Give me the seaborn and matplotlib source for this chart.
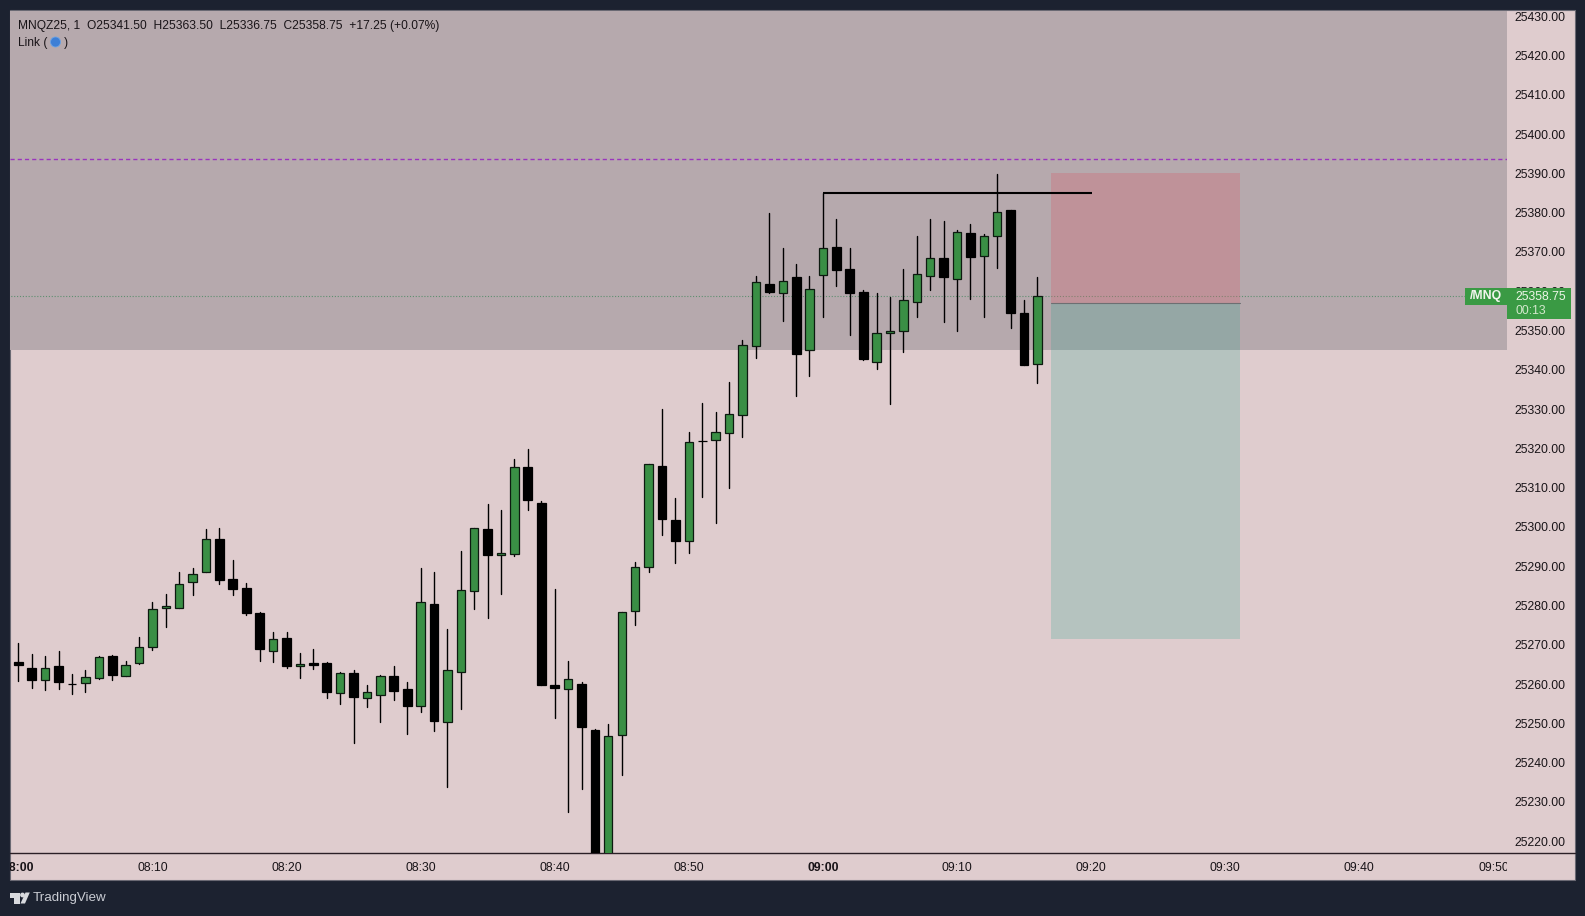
import numpy as np
import pandas as pd
import seaborn as sns
import matplotlib
matplotlib.use("Agg")
import matplotlib.pyplot as plt
from matplotlib.patches import Rectangle, Circle, Polygon
from matplotlib.transforms import Bbox

# 1 minute candles, 08:00 -> 09:16
opens = [25265.75, 25264, 25261, 25264.5, 25260, 25260.25, 25261.5, 25267.25, 25262, 25265.5,
         25269.5, 25279.25, 25279.5, 25286, 25288.5, 25297, 25286.75, 25284.5, 25278, 25268.5,
         25271.75, 25264.5, 25265.5, 25265.5, 25257.75, 25262.75, 25256.5, 25257.25, 25262, 25258.75,
         25254.5, 25280.5, 25250.25, 25263, 25283.75, 25299.5, 25292.75, 25293, 25315.25, 25306,
         25259.75, 25258.75, 25260, 25248.25, 25207, 25247, 25278.5, 25289.75, 25315.5, 25301.75,
         25296.5, 25322, 25322.25, 25324, 25328.5, 25346, 25361.75, 25359.5, 25363.5, 25345,
         25364.25, 25371.25, 25365.75, 25359.75, 25342, 25349.25, 25350, 25357.25, 25363.75, 25368.5,
         25363, 25374.75, 25369, 25374, 25380.75, 25354.5, 25341.5]
highs = [25270.5, 25267.75, 25267.25, 25268.5, 25262.5, 25263.5, 25267.25, 25267.5, 25266, 25272,
         25281, 25283, 25288.5, 25289.5, 25299.5, 25299.75, 25291.5, 25285.75, 25278.25, 25273.25,
         25273.25, 25268, 25269, 25265.75, 25263, 25263.5, 25259.75, 25262.25, 25264.5, 25260.5,
         25289.5, 25288.5, 25274, 25294, 25299.75, 25305.75, 25304.25, 25317.25, 25319.75, 25306.5,
         25284.25, 25266, 25260.5, 25248.5, 25249.75, 25278.25, 25291, 25316, 25330, 25307.5,
         25324.25, 25331.5, 25329.25, 25337, 25347.5, 25364, 25380, 25371, 25367, 25364,
         25385, 25378.5, 25371, 25360.25, 25359.5, 25358.5, 25365.75, 25374, 25378.5, 25378,
         25375.5, 25377, 25374.5, 25389.75, 25380.75, 25357.75, 25363.5]
lows = [25260.75, 25259, 25258.5, 25258.75, 25257.5, 25258, 25261.25, 25261, 25262, 25265,
        25268.75, 25274.5, 25279.5, 25282.75, 25288.5, 25285.5, 25282.75, 25277.5, 25266, 25265.75,
        25264, 25261.5, 25263.75, 25256.5, 25255, 25245, 25254.25, 25250.25, 25256, 25247.25,
        25253, 25248, 25233.75, 25253.75, 25279, 25276.75, 25283, 25292.5, 25304.25, 25259.75,
        25251.5, 25227.5, 25233.25, 25205, 25205, 25236.75, 25275, 25288.5, 25298, 25290.75,
        25293.25, 25307.75, 25301, 25310, 25323, 25343, 25359.5, 25352.5, 25333.25, 25338.5,
        25353.5, 25361.25, 25348.75, 25342.5, 25340.25, 25331.25, 25344.5, 25353.5, 25360.25, 25352.25,
        25350, 25358, 25353.5, 25366, 25350.75, 25341.25, 25336.75]
closes = [25264.75, 25261, 25264, 25260.5, 25260, 25261.75, 25267, 25262.25, 25264.75, 25269.5,
          25279, 25280, 25285.5, 25288, 25297, 25286.5, 25284.25, 25278, 25269, 25271.5,
          25264.5, 25265, 25264.75, 25258, 25262.75, 25256.75, 25258, 25262, 25258.25, 25254.5,
          25281, 25250.5, 25263.5, 25284, 25299.75, 25292.75, 25293.5, 25315.25, 25306.75, 25259.75,
          25259, 25261.25, 25249, 25207, 25246.75, 25278.25, 25289.75, 25316, 25302, 25296.5,
          25321.75, 25322, 25324.25, 25328.75, 25346.25, 25362.25, 25359.75, 25362.5, 25344, 25360.5,
          25371, 25365.5, 25359.5, 25342.75, 25349.25, 25350, 25357.75, 25364.5, 25368.5, 25363.5,
          25375, 25368.75, 25374, 25380.25, 25354.5, 25341.25, 25358.75]

y_ticks = list(range(25220, 25431, 10))
x_ticks = [0, 10, 20, 30, 40, 50, 60, 70, 80, 90, 100, 110]
x_labels = ["08:00", "08:10", "08:20", "08:30", "08:40", "08:50", "09:00", "09:10", "09:20", "09:30", "09:40", "09:50"]

zone_low = 25345
zone_high = 25440
dashed_level = 25393.7
last_price = 25358.75
swing_high = 25385.1
swing_from, swing_to = 60, 80.04
risk_from, risk_to = 77, 91.1
stop_price, entry_price, target_price = 25390, 25356.9, 25271.5

W, H = 1585, 916
FRAME = "#1c2230"
PINK = "#dfccce"
GREY = "#b6a9ad"
GREEN = "#3a8f45"
FONT = ["Liberation Sans", "DejaVu Sans"]

sns.set_theme(style="white")
plt.rcParams["font.family"] = FONT

df = pd.DataFrame({"i": np.arange(len(opens)), "open": opens, "high": highs, "low": lows, "close": closes})
df["body_low"] = df[["open", "close"]].min(axis=1)
df["height"] = (df["close"] - df["open"]).abs()
up = df[df["close"] > df["open"]]
down = df[df["close"] <= df["open"]]
wicks = pd.concat([df[["i", "high"]].rename(columns={"high": "price"}),
                   df[["i", "low"]].rename(columns={"low": "price"})])

fig = plt.figure(figsize=(W / 100, H / 100), dpi=100, facecolor=FRAME)

# pixel coordinate layers for the frame and the overlays
bg = fig.add_axes([0, 0, 1, 1], zorder=0)
bg.set_xlim(0, W)
bg.set_ylim(H, 0)
bg.axis("off")
bg.add_patch(Rectangle((10, 10), 1565, 870, facecolor=PINK, edgecolor="#6a6973", lw=0.8))
bg.plot([10, 1575], [853.3, 853.3], color="#2a1f26", lw=1)

ax_l, ax_r, ax_t, ax_b = 10.3, 1506.7, 10.5, 853.3
x0_px, x_step = 18.3, 13.41
ax = fig.add_axes([ax_l / W, 1 - ax_b / H, (ax_r - ax_l) / W, (ax_b - ax_t) / H], zorder=1)
ax.patch.set_visible(False)

ax.axhspan(zone_low, zone_high, color=GREY, lw=0, zorder=0.5)
ax.axhline(dashed_level, color="#9a35bd", lw=1, ls=(0, (3, 2.2)), zorder=1)
ax.plot([-1, 108.4], [last_price, last_price], color="#5f8f70", lw=0.8, ls=(0, (1, 1.6)), zorder=1)

ax.add_patch(Rectangle((risk_from, entry_price), risk_to - risk_from, stop_price - entry_price,
                       facecolor=(215 / 255, 96 / 255, 110 / 255, 0.30), lw=0, zorder=1.1))
ax.add_patch(Rectangle((risk_from, target_price), risk_to - risk_from, entry_price - target_price,
                       facecolor=(32 / 255, 164 / 255, 141 / 255, 0.22), lw=0, zorder=1.1))
ax.plot([risk_from, risk_to], [entry_price, entry_price], color="#6d6f72", lw=0.8, zorder=1.2)

sns.lineplot(data=wicks, x="i", y="price", units="i", estimator=None, sort=False,
             color="black", lw=1.0, legend=False, ax=ax, zorder=2)
sns.barplot(data=up, x="i", y="height", bottom=up["body_low"].values, native_scale=True, width=0.62,
            color=GREEN, saturation=1, edgecolor="#0d1a10", linewidth=0.9, errorbar=None, ax=ax, zorder=3)
sns.barplot(data=down, x="i", y="height", bottom=down["body_low"].values, native_scale=True, width=0.66,
            color="black", saturation=1, edgecolor="black", linewidth=0.9, errorbar=None, ax=ax, zorder=3)

ax.plot([swing_from, swing_to], [swing_high, swing_high], color="black", lw=1.5, zorder=4,
        solid_capstyle="butt")

ax.set_xlim((ax_l - x0_px) / x_step, (ax_r - x0_px) / x_step)
ax.set_ylim(25430 - (ax_b - 16.2) / 3.929, 25430 + (16.2 - ax_t) / 3.929)
ax.set_xlabel("")
ax.set_ylabel("")
sns.despine(ax=ax, left=True, bottom=True, right=True, top=True)

ax.yaxis.tick_right()
ax.set_yticks(y_ticks, [f"{v:.2f}" for v in y_ticks])
ax.set_xticks(x_ticks, x_labels)
ax.tick_params(axis="both", length=0, labelsize=8.8, labelcolor="#191418")
ax.tick_params(axis="y", pad=5.5)
ax.tick_params(axis="x", pad=6.2)

# labels get cut at the plot edges like in the terminal
to_disp = lambda x0, y0, x1, y1: Bbox([[x0, H - y1], [x1, H - y0]])
for lbl in ax.get_xticklabels():
    lbl.set_clip_box(to_disp(ax_l, ax_b, ax_r, 880))
    lbl.set_clip_on(True)
    if lbl.get_text() in ("08:00", "09:00"):
        lbl.set_fontweight("bold")
for lbl in ax.get_yticklabels():
    lbl.set_clip_box(to_disp(ax_r, 11, 1575, 880))
    lbl.set_clip_on(True)

ov = fig.add_axes([0, 0, 1, 1], zorder=5)
ov.set_xlim(0, W)
ov.set_ylim(H, 0)
ov.axis("off")
ov.patch.set_visible(False)

ov.text(17.5, 25.6, "MNQZ25, 1  O25341.50  H25363.50  L25336.75  C25358.75  +17.25 (+0.07%)",
        fontsize=8.64, color="#191418", va="center")
ov.text(17.5, 42.6, "Link (", fontsize=8.64, color="#191418", va="center")
ov.add_patch(Circle((55.5, 42), 5, facecolor="#3d7fd6", edgecolor="#6aa3e6", lw=0.6))
ov.text(64, 42.6, ")", fontsize=8.64, color="#191418", va="center")

# price tag on the right
ov.add_patch(Rectangle((1465, 287.5), 41.5, 17.5, facecolor="#3a9a44", lw=0))
ov.text(1485.5, 296.5, "/MNQ", fontsize=8.8, color="#f2f5ee", fontweight="bold", ha="center", va="center")
ov.add_patch(Rectangle((1506.7, 288), 64.5, 31, facecolor="#3a9a44", lw=0))
ov.text(1515, 297, f"{last_price:.2f}", fontsize=8.8, color="#eef6e8", va="center")
ov.text(1515, 311, "00:13", fontsize=8.8, color="#d3e8cc", va="center")

# TradingView footer
ov.add_patch(Polygon([(10, 892.5), (19.5, 892.5), (19.5, 903.5), (14.3, 903.5), (14.3, 897.5), (10, 897.5)],
                     facecolor="#d8dade", lw=0))
ov.add_patch(Circle((22.5, 895), 2.4, facecolor="#d8dade", lw=0))
ov.add_patch(Polygon([(25, 903.5), (29.8, 892.5), (25.5, 892.5), (20.5, 903.5)], facecolor="#d8dade", lw=0))
ov.text(33, 898, "TradingView", fontsize=9.6, color="#c9ccd3", va="center")

fig.savefig("out.png", dpi=100, facecolor=FRAME)
